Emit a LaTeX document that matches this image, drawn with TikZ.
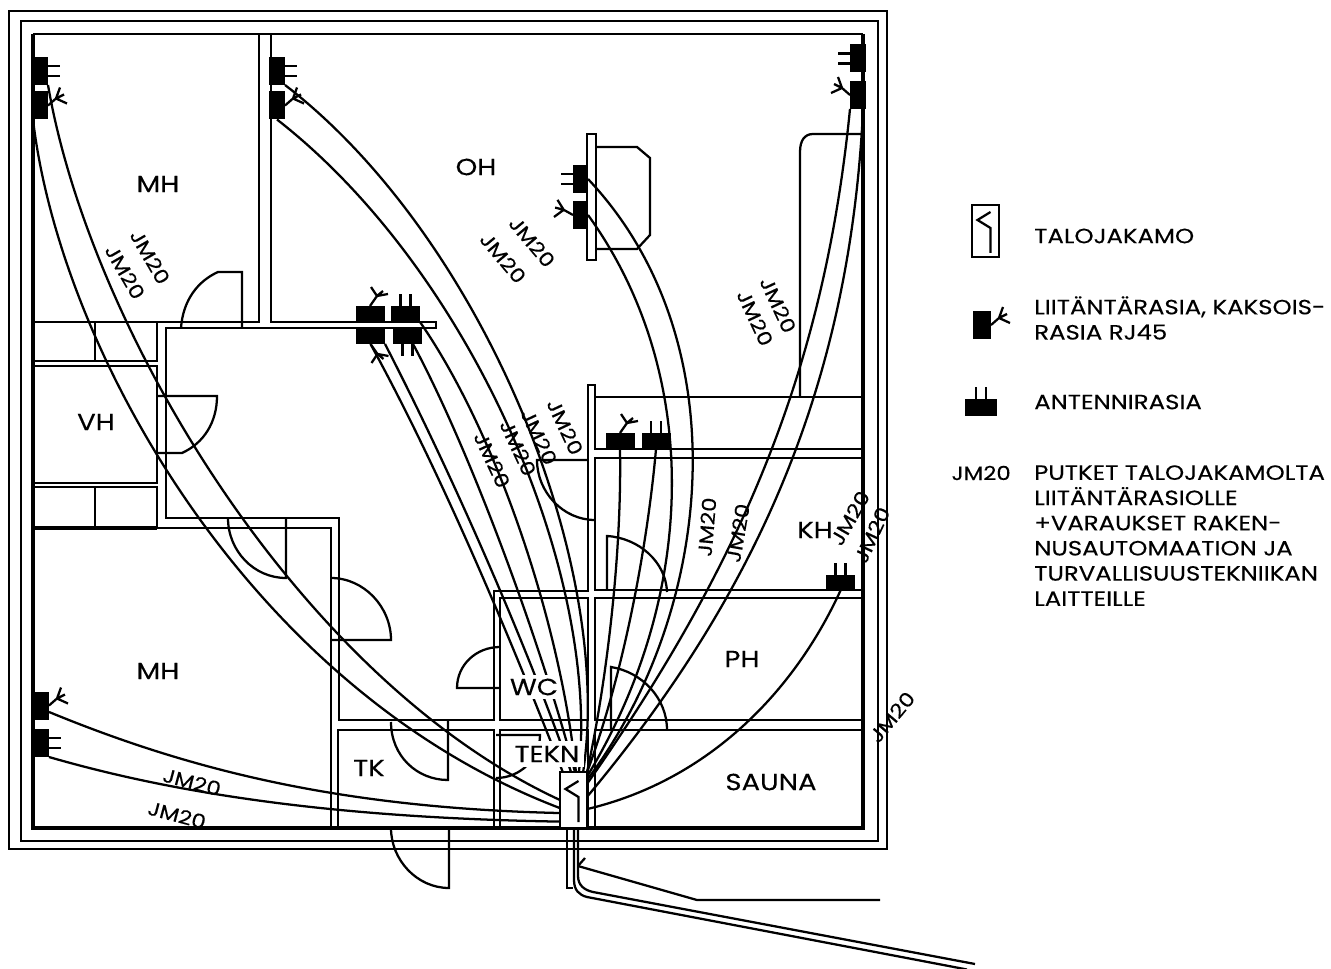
\documentclass[tikz,border=0pt]{standalone}
\usepackage{fontspec}
\setmainfont{Poppins}[FakeStretch=1.18,FakeBold=0.25]
\usepackage{tikz}
\tikzset{
  wall/.style={line width=1.7pt, line join=miter},
  mainwall/.style={line width=2.4pt, line join=miter},
  door/.style={line width=1.7pt},
  cable/.style={line width=1.7pt},
  rasiav/.style={fill=black, inner sep=0pt, outer sep=0pt, minimum width=11.25pt, minimum height=21pt},
  rasiah/.style={fill=black, inner sep=0pt, outer sep=0pt, minimum width=21.75pt, minimum height=12pt},
  jakamo/.style={draw, fill=white, line width=1.7pt, inner sep=0pt, outer sep=0pt, minimum width=20.25pt, minimum height=42pt},
  roomlabel/.style={font=\fontsize{17.5}{17.5}\selectfont, inner sep=0pt},
  pipelabel/.style={font=\fontsize{14.5}{14.5}\selectfont, inner sep=0pt},
  legendtext/.style={font=\fontsize{15.5}{18.9}\selectfont, inner sep=0pt, align=left},
  rjfork/.pic={\draw[cable] (0,0) -- (8,-7) -- (12,-18) (8,-7) -- (16,-11) (8,-7) -- (19,-2);},
  rjforkup/.pic={\draw[cable] (0,0) -- (7,-10) -- (1,-19) (7,-10) -- (13,-15) (7,-10) -- (18,-12);},
  antlines/.pic={\draw[cable] (0,-5) -- (12,-5) (0,5) -- (12,5);},
  jakamosign/.pic={\draw[cable] (5,-19) -- (-8,-11) -- (5,-3) -- (5,22);}
}
\begin{document}
\begin{tikzpicture}[x=0.75pt,y=-0.75pt]
  \useasboundingbox (0,0) rectangle (1331,969);
  %The outer shell first.
  \draw[wall] (9,11) rectangle (887,849);
  \draw[wall] (21,21) rectangle (878,841);
  \draw[mainwall] (863,34) -- (863,828) -- (33,828) -- (33,34);
  \draw[wall] (33,34) -- (863,34);
  %left side rooms
  \draw[wall] (259,34) -- (259,322) -- (33,322);
  \draw[wall] (157,322) -- (157,361) -- (33,361);
  \draw[wall] (95,322) -- (95,361);
  \draw[wall] (33,366) -- (157,366) -- (157,483) -- (33,483);
  \draw[wall] (33,487) -- (157,487) -- (157,528) -- (331,528) -- (331,828);
  \draw[wall] (95,487) -- (95,528);
  \draw[mainwall] (33,528) -- (157,528);
  %the long inner wall, from the top stub down to the bathrooms
  \draw[wall] (271,34) -- (271,322) -- (436,322) -- (436,328) -- (166,328) -- (166,518)
    -- (339,518) -- (339,720) -- (494,720) -- (494,591) -- (588,591) -- (588,385)
    -- (595,385) -- (595,449) -- (863,449);
  \draw[wall] (595,397) -- (863,397);
  \draw[wall] (800,397) -- (800,152) .. controls (800,140) and (805,134) .. (813,134) -- (863,134);
  \draw[wall] (863,458) -- (595,458) -- (595,590) -- (863,590);
  \draw[wall] (863,598) -- (595,598) -- (595,720) -- (863,720);
  \draw[wall] (863,730) -- (595,730) -- (595,828);
  \draw[wall] (500,598) rectangle (588,720);
  \draw[wall] (500,828) -- (500,730) -- (588,730) -- (588,828);
  \draw[wall] (338,828) -- (338,730) -- (494,730) -- (494,828);
  %stub with the bump behind it
  \draw[wall] (587,134) rectangle (596,260);
  \draw[wall] (596,147) -- (637,147) -- (650,158) -- (650,235) -- (637,249) -- (596,249);
  %doors
  \draw[door] (181,328) .. controls (183,300) and (198,281) .. (218,272) -- (242,272) -- (242,328);
  \draw[door] (157,396) -- (217,396) .. controls (217,422) and (204,443) .. (182,453) -- (157,453);
  \draw[door] (228,518) .. controls (228,551) and (254,578) .. (286,578) -- (286,518);
  \draw[door] (331,578) .. controls (364,578) and (391,607) .. (391,640) -- (331,640);
  \draw[door] (391,722) .. controls (391,756) and (417,780) .. (448,780) -- (448,720);
  \draw[door] (391,828) .. controls (391,860) and (417,888) .. (449,888) -- (449,828);
  \draw[door] (500,647) .. controls (476,647) and (457,665) .. (457,688) -- (500,688);
  \draw[door] (496,735) -- (540,735) .. controls (540,759) and (520,778) .. (496,778);
  \draw[door] (588,460) -- (537,460) .. controls (537,492) and (563,520) .. (595,520);
  \draw[door] (607,590) -- (607,536) .. controls (639,538) and (666,562) .. (667,592);
  \draw[door] (611,730) -- (611,667) .. controls (642,672) and (667,698) .. (667,730);

  %Outlets. The ones in a pair are named a (upper) and b (lower).
  \node[rasiav] (mhya) at (40.5,71) {};
  \node[rasiav] (mhyb) at (40.5,105.5) {};
  \node[rasiav, minimum width=12pt] (oha) at (277,71) {};
  \node[rasiav, minimum width=12pt] (ohb) at (277,105.5) {};
  \node[rasiav, minimum width=12pt] (ora) at (858,58.5) {};
  \node[rasiav, minimum width=12pt] (orb) at (858,95) {};
  \node[rasiav] (oka) at (580.5,179) {};
  \node[rasiav] (okb) at (580.5,215) {};
  \node[rasiah] (rkv) at (370,314) {};
  \node[rasiah] (roa) at (405.5,314) {};
  \node[rasiah, minimum height=12.75pt] (rkb) at (370.5,335.5) {};
  \node[rasiah, minimum height=12.75pt] (rob) at (407.5,335.5) {};
  \node[rasiah] (khv) at (620,441) {};
  \node[rasiah] (kho) at (656,441) {};
  \node[rasiah] (khs) at (840.5,582.5) {};
  \node[rasiav, minimum width=12pt] (mhaa) at (41,705.5) {};
  \node[rasiav, minimum width=12pt] (mhab) at (41,743) {};
  %talojakamo box
  \node[jakamo] (tj) at (573.5,800) {};
  %prongs on the outlets
  \pic at (mhya.east) {antlines};
  \pic at (mhyb.east) {rjfork};
  \pic at (oha.east) {antlines};
  \pic at (ohb.east) {rjfork};
  \pic[rotate=180] at (ora.west) {antlines};
  \pic[xscale=-1] at (orb.west) {rjfork};
  \pic[rotate=180] at (oka.west) {antlines};
  \pic[xscale=-1,rotate=-12] at (okb.west) {rjfork};
  \pic at (rkv.north) {rjforkup};
  \pic[rotate=90] at (roa.north) {antlines};
  \pic[yscale=-1] at (rkb.south) {rjforkup};
  \pic[rotate=-90] at (rob.south) {antlines};
  \pic at (khv.north) {rjforkup};
  \pic[rotate=90] at (kho.north) {antlines};
  \pic[rotate=90] at (khs.north) {antlines};
  \pic at (mhaa.east) {rjfork};
  \pic at (mhab.east) {antlines};

  %Pipes run from the outlet to the box, left side of the box first.
  \draw[cable] (mhya.south east) .. controls (90,330) and (300,680) .. (tj.west);
  \draw[cable] (mhyb.south west) .. controls (60,350) and (250,690) .. (tj.211);
  \draw[cable] (mhaa.-39) .. controls (190,770) and (340,808) .. (tj.224);
  \draw[cable] (mhab.south east) .. controls (180,795) and (340,818) .. (tj.238);
  %top of the box
  \draw[cable] (rkb.south) .. controls (445,480) and (515,650) .. (tj.111);
  \draw[cable] (rkb.south east) .. controls (450,470) and (525,640) .. (tj.95);
  \draw[cable] (rob.-57) .. controls (470,450) and (540,640) .. (tj.87);
  \draw[cable] (roa.south east) .. controls (495,430) and (560,620) .. (tj.85);
  \draw[cable] (ohb.south) .. controls (470,270) and (600,570) .. (tj.79);
  \draw[cable] (oha.south east) .. controls (480,235) and (615,560) .. (tj.71);
  %right side of the box
  \draw[cable] (khv.south) .. controls (622,560) and (605,690) .. (tj.north east);
  \draw[cable] (kho.south) .. controls (648,540) and (625,670) .. (tj.64);
  \draw[cable] (okb.east) .. controls (700,370) and (700,590) .. (tj.60);
  \draw[cable] (oka.east) .. controls (740,340) and (715,610) .. (tj.56);
  \draw[cable] (orb.south west) .. controls (825,360) and (748,555) .. (tj.50);
  \draw[cable] (orb.-70) .. controls (850,380) and (760,590) .. (tj.13);
  \draw[cable] (khs.south) .. controls (795,690) and (710,780) .. (tj.-34);

  %Labels that blank the pipes behind them.
  \node[roomlabel, fill=white, minimum width=34.5pt, minimum height=18pt] (wc) at (534,687) {WC};
  \node[roomlabel, fill=white, minimum width=54.75pt, minimum height=19.5pt] (tekn) at (547,754) {TEKN};
  \node[jakamo] at (tj) {};
  \pic at (tj) {jakamosign};

  %Incoming lines below the box
  \coordinate (kaapa) at (975,964);
  \coordinate (kaapb) at (967,969.5);
  \coordinate (kaapc) at (880,900);
  \coordinate (kaapd) at (574,828);
  \coordinate (kaape) at (578,828);
  \coordinate (kaapf) at (567,828);
  \coordinate (kaapg) at (578,866);
  \draw[wall] (kaapf) -- (567,888) -- (573,888);
  \draw[cable] (kaapd) -- (574,880) .. controls (574,890) and (579,895) .. (587,897) -- (kaapb);
  \draw[cable] (kaape) -- (578,876) .. controls (578,885) and (584,890) .. (593,892) -- (kaapa);
  \draw[cable] (kaapg) -- (697,900) -- (kaapc);
  \draw[cable] (kaapg) -- (585,858);

  %room names
  \node[roomlabel] (mhy) at (158,184) {MH};
  \node[roomlabel] (oh) at (476,167) {OH};
  \node[roomlabel] (mha) at (158,671) {MH};
  \node[roomlabel] (vh) at (96,422) {VH};
  \node[roomlabel] (kh) at (815,530) {KH};
  \node[roomlabel] (ph) at (742,659) {PH};
  \node[roomlabel] (sauna) at (771,782) {SAUNA};
  \node[roomlabel] (tk) at (369,768) {TK};

  %pipe types, written along the pipes
  \node[pipelabel, rotate=-60] (ja) at (150,257) {JM20};
  \node[pipelabel, rotate=-60] (jb) at (125,272) {JM20};
  \node[pipelabel, rotate=-50] (jc) at (532,242) {JM20};
  \node[pipelabel, rotate=-50] (jd) at (503,258) {JM20};
  \node[pipelabel, rotate=-65] (je) at (778,305) {JM20};
  \node[pipelabel, rotate=-65] (jf) at (755,318) {JM20};
  \node[pipelabel, rotate=-65] (jg) at (565,427) {JM20};
  \node[pipelabel, rotate=-65] (jh) at (539,437) {JM20};
  \node[pipelabel, rotate=-65] (ji) at (518,448) {JM20};
  \node[pipelabel, rotate=-65] (jj) at (492,460) {JM20};
  \node[pipelabel, rotate=85] (jk) at (707,527) {JM20};
  \node[pipelabel, rotate=80] (jl) at (738,533) {JM20};
  \node[pipelabel, rotate=60] (jm) at (850,518) {JM20};
  \node[pipelabel, rotate=65] (jn) at (872,535) {JM20};
  \node[pipelabel, rotate=50] (jo) at (892,717) {JM20};
  \node[pipelabel, rotate=-15] (jp) at (192,782) {JM20};
  \begin{scope}
    \clip (33,770) rectangle (300,827);
    \node[pipelabel, rotate=-15] (jq) at (177,815) {JM20};
  \end{scope}

  %Legend
  \node[jakamo, minimum height=39pt] (legtj) at (985.5,231) {};
  \pic at (legtj) {jakamosign};
  \node[rasiav, minimum width=13.5pt] (legrj) at (982,325) {};
  \pic at (legrj.east) {rjfork};
  \node[rasiah, minimum width=24pt, minimum height=12.75pt] (legant) at (981,407.5) {};
  \pic[rotate=90] at (legant.north) {antlines};
  \node[legendtext, anchor=west] (legta) at (1034,236) {TALOJAKAMO};
  \node[legendtext, anchor=west] (legtb) at (1034,318) {LIITÄNTÄRASIA, KAKSOIS-\\RASIA RJ45};
  \node[legendtext, anchor=west] (legtc) at (1034,402) {ANTENNIRASIA};
  \node[pipelabel, anchor=east] (legjm) at (1011,473) {JM20};
  \node[legendtext, anchor=north west] (legtd) at (1034,465) {PUTKET TALOJAKAMOLTA\\LIITÄNTÄRASIOLLE\\+VARAUKSET RAKEN-\\NUSAUTOMAATION JA\\TURVALLISUUSTEKNIIKAN\\LAITTEILLE};
\end{tikzpicture}
\end{document}
